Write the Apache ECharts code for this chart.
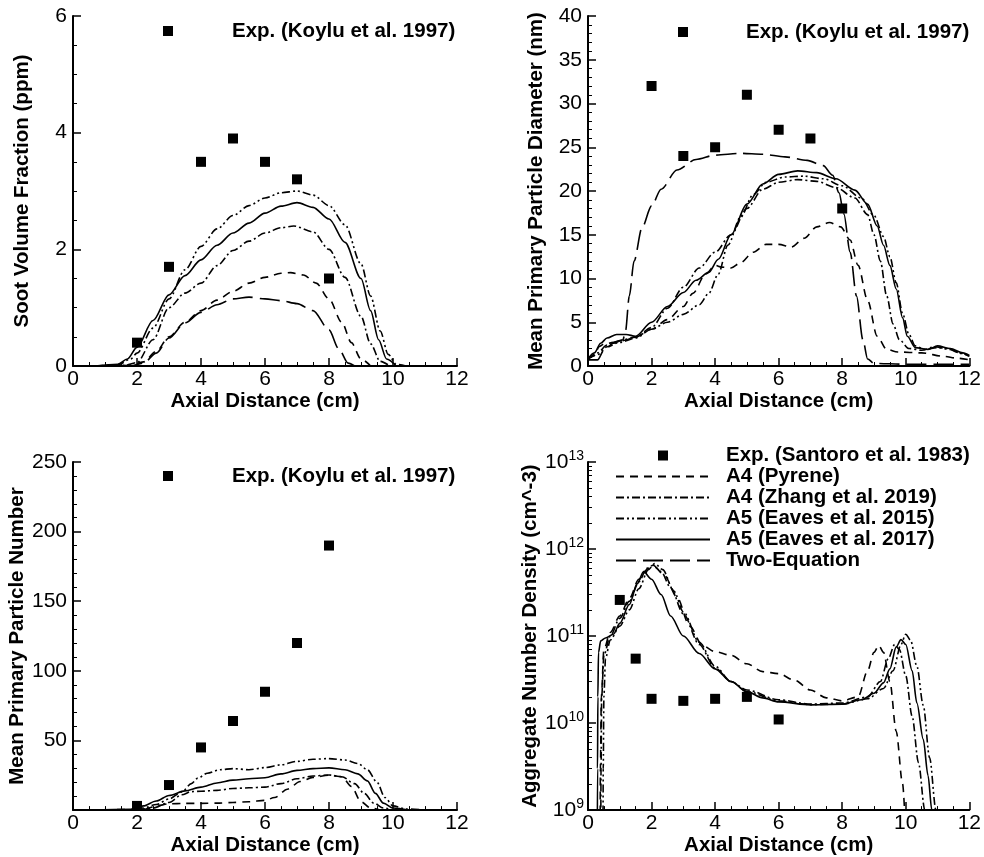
<!DOCTYPE html>
<html><head><meta charset="utf-8">
<script src="https://cdn.jsdelivr.net/npm/echarts@6/dist/echarts.min.js"></script>
<style>html,body{margin:0;padding:0;background:#fff}#c{width:984px;height:857px}</style>
</head><body><div id="c"></div>
<script>
// ---------- names ----------
const NAME_EXP_K = 'Exp. (Koylu et al. 1997)';
const NAME_EXP_S = 'Exp. (Santoro et al. 1983)';
const NAME_PYR = 'A4 (Pyrene)';
const NAME_ZH = 'A4 (Zhang et al. 2019)';
const NAME_E15 = 'A5 (Eaves et al. 2015)';
const NAME_E17 = 'A5 (Eaves et al. 2017)';
const NAME_TWO = 'Two-Equation';

const xLabelName = 'Axial Distance (cm)';
const yNames = ['Soot Volume Fraction (ppm)', 'Mean Primary Particle Diameter (nm)', 'Mean Primary Particle Number', 'Aggregate Number Density (cm^-3)'];

// ---------- Panel 1: soot volume fraction (ppm) ----------
const exp1 = [[2,0.4],[3,1.7],[4,3.5],[5,3.9],[6,3.5],[7,3.2],[8,1.5]];
const e15_1 = [[0.7,0],[1.4,0.02],[1.8,0.12],[2.0,0.22],[2.5,0.65],[3.0,1.15],[3.5,1.65],[4.0,2.05],[4.5,2.35],[5.0,2.58],[5.5,2.75],[6.0,2.88],[6.5,2.97],[7.0,3.0],[7.5,2.93],[8.0,2.75],[8.5,2.42],[9.0,1.75],[9.3,1.2],[9.6,0.6],[9.85,0.2],[10.1,0.03],[10.4,0]];
const e17_1 = [[0.7,0],[1.4,0.03],[1.7,0.12],[2.0,0.32],[2.5,0.78],[3.0,1.22],[3.5,1.55],[4.0,1.82],[4.5,2.07],[5.0,2.28],[5.5,2.45],[6.0,2.62],[6.5,2.74],[7.0,2.8],[7.5,2.72],[8.0,2.52],[8.5,2.12],[9.0,1.5],[9.3,0.95],[9.55,0.45],[9.8,0.12],[10.1,0]];
const zh_1 = [[0.7,0],[1.6,0.01],[2.0,0.06],[2.5,0.45],[3.0,1.0],[3.5,1.25],[4.0,1.42],[4.5,1.72],[5.0,1.98],[5.5,2.14],[6.0,2.28],[6.5,2.37],[6.9,2.4],[7.5,2.3],[8.0,2.0],[8.5,1.52],[9.0,0.85],[9.3,0.38],[9.6,0.08],[9.9,0]];
const pyr_1 = [[0.7,0],[1.8,0.01],[2.2,0.07],[2.6,0.25],[3.0,0.5],[3.5,0.75],[4.0,0.95],[4.5,1.13],[5.0,1.28],[5.5,1.42],[6.0,1.52],[6.5,1.59],[6.8,1.6],[7.2,1.56],[7.6,1.42],[8.0,1.15],[8.4,0.75],[8.7,0.4],[9.0,0.12],[9.3,0]];
const two_1 = [[0.7,0],[1.8,0.0],[2.2,0.05],[2.6,0.22],[3.0,0.48],[3.5,0.74],[4.0,0.92],[4.5,1.05],[5.0,1.15],[5.5,1.18],[6.0,1.15],[6.5,1.12],[7.0,1.07],[7.5,0.95],[8.0,0.62],[8.3,0.3],[8.6,0.05],[8.8,0]];

// ---------- Panel 2: mean primary particle diameter (nm) ----------
const exp2 = [[2,32],[3,24],[4,25],[5,31],[6,27],[7,26],[8,18]];
const e17_2 = [[0,0.8],[0.2,1.5],[0.4,2.6],[0.6,3.2],[0.9,3.6],[1.2,3.6],[1.5,3.4],[2.0,5.0],[2.5,6.8],[3.0,8.4],[3.4,9.8],[3.8,10.7],[4.1,12.2],[4.5,15.0],[5.0,18.5],[5.5,20.8],[6.0,21.9],[6.6,22.3],[7.2,22.1],[7.8,21.4],[8.4,20.1],[8.8,18.5],[9.1,16.0],[9.3,13.8],[9.5,11.5],[9.7,8.8],[9.9,5.5],[10.05,3.4],[10.3,2.1],[10.7,1.9],[11.0,2.3],[11.4,2.0],[11.8,1.5],[12,1.2]];
const zh_2 = [[0,0.8],[0.3,1.5],[0.6,2.4],[1.0,2.9],[1.5,3.3],[2.0,4.4],[2.5,6.6],[3.0,9.0],[3.5,11.2],[4.0,13.0],[4.5,15.0],[5.0,18.0],[5.5,20.2],[6.0,21.0],[6.6,21.3],[7.2,21.1],[7.8,20.4],[8.4,19.2],[8.8,17.3],[9.0,15.0],[9.2,12.0],[9.4,8.0],[9.6,4.8],[9.8,3.0],[10.1,2.0],[10.5,1.8],[10.9,2.2],[11.3,2.0],[11.7,1.5],[12,1.1]];
const e15_2 = [[0,0.8],[0.3,1.3],[0.6,2.2],[1.0,2.7],[1.5,3.2],[2.0,4.2],[2.5,5.0],[3.0,5.9],[3.5,7.0],[3.8,8.3],[4.1,10.5],[4.4,13.8],[4.8,17.0],[5.2,19.6],[5.6,21.0],[6.2,21.6],[6.8,21.7],[7.4,21.4],[8.0,20.6],[8.6,19.2],[9.0,17.2],[9.3,14.8],[9.5,12.5],[9.7,9.5],[9.9,6.0],[10.1,3.6],[10.3,2.3],[10.6,1.9],[11.0,2.1],[11.4,1.9],[11.8,1.4],[12,1.1]];
const pyr_2 = [[0,0.8],[0.2,1.2],[0.35,2.2],[0.5,2.5],[0.8,2.7],[1.1,2.9],[1.5,3.3],[2.0,4.2],[2.5,5.3],[3.0,6.8],[3.3,8.3],[3.7,10.5],[4.0,11.5],[4.2,11.3],[4.5,11.2],[4.8,11.8],[5.2,13.0],[5.6,13.9],[6.0,13.9],[6.4,13.6],[6.8,14.6],[7.2,15.9],[7.6,16.4],[7.95,15.9],[8.25,14.4],[8.5,11.5],[8.8,7.5],[9.1,3.4],[9.4,1.9],[9.75,1.6],[10.5,1.5],[11.2,1.1],[11.6,0.9],[12,0.7]];
const two_2 = [[0,0.7],[0.3,0.7],[0.5,1.8],[0.8,2.6],[1.1,3.0],[1.18,4.0],[1.3,8.0],[1.45,12.0],[1.7,15.8],[2.0,18.3],[2.3,20.2],[2.8,22.4],[3.4,23.6],[4.0,24.1],[4.8,24.3],[5.5,24.2],[6.2,23.9],[6.9,23.5],[7.4,22.9],[7.7,21.8],[7.9,19.8],[8.05,17.4],[8.25,13.0],[8.45,8.0],[8.65,3.0],[8.8,0.8],[9.0,0.3],[10,0.2],[12,0.2]];

// ---------- Panel 3: mean primary particle number ----------
const exp3 = [[2,3],[3,18],[4,45],[5,64],[6,85],[7,120],[8,190]];
const e15_3 = [[0.5,0],[1.8,0.3],[2.2,1.5],[2.6,4],[3.0,8],[3.4,13],[3.7,19],[3.9,23],[4.2,26.5],[4.6,29],[5.0,29.8],[5.5,29],[6.0,30.5],[6.5,32.5],[7.0,35],[7.5,36.5],[8.0,37],[8.5,36],[8.9,33.5],[9.2,29],[9.5,20],[9.75,9],[10.0,3],[10.4,0.8],[11,0]];
const e17_3 = [[0.5,0],[1.8,0.5],[2.2,3],[2.6,6.5],[3.0,10.5],[3.5,13.8],[4.0,16.5],[4.5,19.5],[5.0,21.5],[5.5,22.5],[6.0,23.2],[6.5,26],[7.0,28.5],[7.5,29.8],[8.0,30.3],[8.5,29],[8.9,26],[9.2,21],[9.45,12],[9.7,5],[10.0,1.5],[10.5,0]];
const zh_3 = [[0.5,0],[2.0,0.3],[2.5,1.5],[3.0,5.5],[3.4,11],[3.7,13.3],[4.0,13.5],[4.5,14.2],[5.0,15.5],[5.5,16],[6.0,16.5],[6.5,19],[7.0,22.5],[7.5,24.5],[8.0,25.2],[8.4,24],[8.8,19],[9.1,12],[9.4,5],[9.7,1.5],[10.0,0]];
const pyr_3 = [[0.5,0],[2.2,0.5],[2.6,3],[3.0,4.5],[3.5,4.8],[4.0,4.8],[4.5,5],[5.0,5.5],[5.5,6],[6.0,7],[6.3,9],[6.7,15],[7.1,20.5],[7.5,23.5],[8.0,25],[8.4,24],[8.7,17],[9.0,6],[9.3,1.5],[9.6,0]];

// ---------- Panel 4: aggregate number density (cm^-3) ----------
const exp4 = [[1,2.6e11],[1.5,5.5e10],[2,1.9e10],[3,1.8e10],[4,1.9e10],[5,2.0e10],[6,1.1e10]];
const e17_4 = [[0.29,3e8],[0.3,3e9],[0.31,2e10],[0.33,6.5e10],[0.4,8.8e10],[0.55,9.5e10],[0.8,1.05e11],[1.0,1.4e11],[1.3,2.3e11],[1.55,4.0e11],[1.75,5.5e11],[2.0,4.5e11],[2.3,3.0e11],[2.6,1.7e11],[3.0,1.0e11],[3.5,6.3e10],[4.0,4.2e10],[4.5,3.0e10],[5.0,2.3e10],[5.5,1.95e10],[6.0,1.75e10],[7.0,1.62e10],[8.0,1.65e10],[8.6,1.85e10],[9.0,2.2e10],[9.3,2.9e10],[9.5,4.2e10],[9.7,7.5e10],[9.85,9.1e10],[10.0,8e10],[10.2,4e10],[10.35,1.7e10],[10.55,6.5e9],[10.7,2.5e9],[10.82,1e9],[10.86,5e8]];
const e15_4 = [[0.47,3e8],[0.48,3e9],[0.5,2e10],[0.55,5.5e10],[0.7,9e10],[1.0,1.3e11],[1.3,2.0e11],[1.6,3.5e11],[1.9,5.8e11],[2.1,6.8e11],[2.35,5.8e11],[2.7,3.3e11],[3.0,1.9e11],[3.5,8.5e10],[4.0,4.5e10],[4.5,3.0e10],[5.0,2.3e10],[6.0,1.8e10],[7.0,1.63e10],[8.0,1.65e10],[8.8,1.9e10],[9.3,2.5e10],[9.6,4.0e10],[9.85,8.0e10],[10.0,1.05e11],[10.15,9e10],[10.35,4.5e10],[10.55,1.6e10],[10.75,4e9],[10.95,1e9],[11.0,5e8]];
const zh_4 = [[0.4,3e8],[0.41,3e9],[0.43,2e10],[0.5,6e10],[0.7,1.0e11],[1.0,1.6e11],[1.3,2.5e11],[1.6,4.2e11],[1.85,6.0e11],[2.05,6.5e11],[2.3,5.5e11],[2.6,3.6e11],[3.0,1.8e11],[3.5,8e10],[4.0,4.3e10],[4.5,3.0e10],[5.0,2.4e10],[6.0,1.85e10],[7.0,1.65e10],[8.0,1.7e10],[8.8,2.0e10],[9.2,3.0e10],[9.45,5.5e10],[9.65,8.0e10],[9.8,7e10],[10.0,3.5e10],[10.2,1.2e10],[10.4,3.5e9],[10.6,1e9],[10.65,5e8]];
const pyr_4 = [[0.38,3e8],[0.39,3e9],[0.42,2e10],[0.5,7e10],[0.7,1.1e11],[1.0,1.7e11],[1.3,2.7e11],[1.6,4.5e11],[1.9,6.0e11],[2.1,6.2e11],[2.4,5.0e11],[2.8,2.8e11],[3.2,1.3e11],[3.6,7.8e10],[4.0,6.6e10],[4.5,6.0e10],[5.0,4.8e10],[5.5,3.9e10],[6.0,3.7e10],[6.5,3.1e10],[7.0,2.4e10],[7.5,1.95e10],[8.0,1.8e10],[8.5,2.0e10],[8.8,4.0e10],[9.0,6.5e10],[9.15,7.8e10],[9.3,6.5e10],[9.5,3.0e10],[9.7,8e9],[9.9,2e9],[10.0,5e8]];

// ---------- axis ranges / ticks ----------
const xRange = [0, 12, 2];
const yRanges = [[0, 6, 2, 4], [0, 40, 5, 5], [0, 250, 50, 5]];
const logRange = [1e9, 1e13];

// ---------- styles ----------
const FONT = 'Liberation Sans, Arial, Helvetica, sans-serif';
const TICK_COLOR = '#000';
const dashes = {};
dashes[NAME_PYR] = [8, 6];
dashes[NAME_ZH] = [8, 3, 2, 3];
dashes[NAME_E15] = [8, 3, 2, 3, 2, 3];
dashes[NAME_E17] = 'solid';
dashes[NAME_TWO] = [20, 7];

const grids = [
  {left: 73, top: 16, width: 384, height: 350},
  {left: 588, top: 16, width: 384, height: 350},
  {left: 73, top: 462, width: 384, height: 349},
  {left: 588, top: 462, width: 384, height: 349}
];
const yNameGaps = [40, 41, 40, 41];

function axisParts(minorSplit) {
  return {
    axisLine: {show: true, onZero: false, lineStyle: {color: '#000', width: 2}},
    axisTick: {show: true, inside: true, length: 8, lineStyle: {color: TICK_COLOR, width: 1.5}},
    minorTick: {show: true, splitNumber: minorSplit, length: 4, lineStyle: {color: TICK_COLOR, width: 1}},
    splitLine: {show: false},
    minorSplitLine: {show: false}
  };
}

const xAxes = grids.map((g, i) => Object.assign(axisParts(4), {
  type: 'value', gridIndex: i, min: xRange[0], max: xRange[1], interval: xRange[2],
  axisLabel: {color: '#000', fontSize: 21, fontFamily: FONT, margin: 3},
  name: xLabelName, nameLocation: 'middle', nameGap: 19,
  nameTextStyle: {color: '#000', fontSize: 20.5, fontWeight: 'bold', fontFamily: FONT}
}));

const yAxes = grids.map((g, i) => {
  const common = {
    gridIndex: i,
    name: yNames[i], nameLocation: 'middle', nameRotate: 90, nameGap: yNameGaps[i],
    nameTextStyle: {color: '#000', fontSize: 20.5, fontWeight: 'bold', fontFamily: FONT}
  };
  if (i < 3) {
    const r = yRanges[i];
    return Object.assign(axisParts(r[3]), common, {
      type: 'value', min: r[0], max: r[1], interval: r[2],
      axisLabel: {color: '#000', fontSize: 21, fontFamily: FONT, margin: 6,
        formatter: v => (i === 2 && v === 0) ? '' : String(v)}
    });
  }
  return Object.assign(axisParts(9), common, {
    type: 'log', logBase: 10, min: logRange[0], max: logRange[1], interval: 1,
    axisLabel: {color: '#000', fontFamily: FONT, margin: 4,
      formatter: v => '{b|10}{s|' + Math.round(Math.log10(v)) + '}',
      rich: {b: {fontSize: 21, fontFamily: FONT, color: '#000'},
             s: {fontSize: 14, fontFamily: FONT, color: '#000', padding: [0, 0, 12, 0]}}}
  });
});

function lineSeries(name, data, idx) {
  return {
    name: name, type: 'line', xAxisIndex: idx, yAxisIndex: idx, data: data,
    showSymbol: false, symbol: 'none', smooth: 0.3, smoothMonotone: 'x',
    lineStyle: {color: '#000', width: 1.6, type: dashes[name]},
    itemStyle: {color: '#000'}, z: 2, silent: true
  };
}
function expSeries(name, data, idx) {
  return {
    name: name, type: 'scatter', xAxisIndex: idx, yAxisIndex: idx, data: data,
    symbol: 'rect', symbolSize: 10, itemStyle: {color: '#000', opacity: 1}, z: 3, silent: true
  };
}

const series = [
  expSeries(NAME_EXP_K, exp1, 0),
  lineSeries(NAME_PYR, pyr_1, 0), lineSeries(NAME_ZH, zh_1, 0), lineSeries(NAME_E15, e15_1, 0),
  lineSeries(NAME_E17, e17_1, 0), lineSeries(NAME_TWO, two_1, 0),
  expSeries(NAME_EXP_K, exp2, 1),
  lineSeries(NAME_PYR, pyr_2, 1), lineSeries(NAME_ZH, zh_2, 1), lineSeries(NAME_E15, e15_2, 1),
  lineSeries(NAME_E17, e17_2, 1), lineSeries(NAME_TWO, two_2, 1),
  expSeries(NAME_EXP_K, exp3, 2),
  lineSeries(NAME_PYR, pyr_3, 2), lineSeries(NAME_ZH, zh_3, 2), lineSeries(NAME_E15, e15_3, 2),
  lineSeries(NAME_E17, e17_3, 2),
  expSeries(NAME_EXP_S, exp4, 3),
  lineSeries(NAME_PYR, pyr_4, 3), lineSeries(NAME_ZH, zh_4, 3), lineSeries(NAME_E15, e15_4, 3),
  lineSeries(NAME_E17, e17_4, 3)
];

const SQUARE = 'path://M0,0L10,0L10,10L0,10Z';
const legTxt = {color: '#000', fontSize: 20.5, fontWeight: 'bold', fontFamily: FONT, lineHeight: 22};
function expLegend(left, top, padLeft) {
  return {
    left: left, top: top, padding: 0, itemWidth: 10, itemHeight: 10, selectedMode: false,
    data: [{name: NAME_EXP_K, icon: SQUARE, itemStyle: {color: '#000', opacity: 1}}],
    textStyle: Object.assign({}, legTxt, {padding: [0, 0, 0, padLeft]})
  };
}

const option = {
  animation: false,
  backgroundColor: '#fff',
  grid: grids,
  xAxis: xAxes,
  yAxis: yAxes,
  legend: [
    expLegend(163, 20, 54),
    expLegend(678, 21, 53),
    expLegend(163, 465, 54),
    {
      left: 615, top: 445, padding: 0, orient: 'vertical', itemWidth: 94, itemHeight: 10, itemGap: 0,
      selectedMode: false,
      itemStyle: {opacity: 0},
      data: [{name: NAME_EXP_S, icon: SQUARE, itemStyle: {color: '#000', opacity: 1}},
             NAME_PYR, NAME_ZH, NAME_E15, NAME_E17, NAME_TWO],
      textStyle: Object.assign({}, legTxt, {lineHeight: 21, padding: [0, 0, 0, 11]})
    }
  ],
  series: series
};

const chart = echarts.init(document.getElementById('c'), null, {renderer: 'canvas'});
chart.setOption(option);
</script></body></html>
